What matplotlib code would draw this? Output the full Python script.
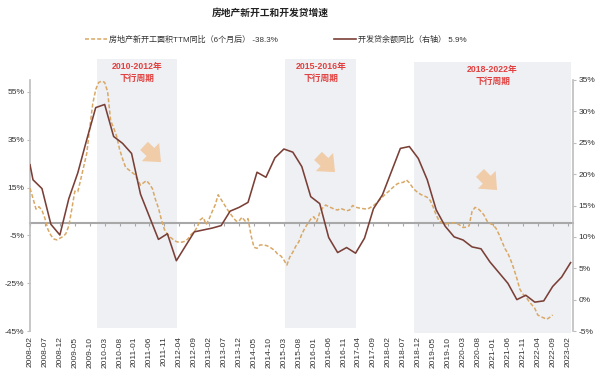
import numpy as np
import pandas as pd
import matplotlib
matplotlib.use("Agg")
import matplotlib.pyplot as plt
from matplotlib.patches import Rectangle, FancyArrowPatch
import matplotlib.transforms as mtransforms

plt.rcParams['font.family'] = ['Liberation Sans', 'Noto Sans CJK SC']
plt.rcParams['axes.unicode_minus'] = False

# ---------------- data ----------------
months = [str(p) for p in pd.period_range('2008-02', '2023-03', freq='M')]

# 房地产新开工面积TTM同比（6个月后）, monthly from 2008-02 (left axis, %)
starts_yoy = [
    14.7, 10.5, 6.0, 7.0, 5.5, 2.1, -2.5, -5.0, -6.5, -6.9,
    -6.2, -5.5, -4.3, -1.0, 6.0, 13.5, 13.3, 18.5, 24.0, 29.3,
    40.0, 50.0, 56.0, 59.0, 59.5, 59.0, 55.0, 43.0, 40.0, 36.5,
    31.0, 27.0, 23.5, 22.5, 21.5, 20.5, 18.5, 16.0, 17.0, 17.9,
    16.5, 14.5, 10.0, 6.5, 1.5, -2.5, -4.5, -5.8, -6.8, -7.6,
    -7.9, -7.8, -7.4, -6.3, -4.5, -3.5, -1.5, 1.5, 2.5, -0.5,
    2.0, 5.0, 7.7, 12.0, 10.0, 8.0, 6.0, 4.2, 2.5, 1.0,
    1.0, 2.6, 1.0, 2.0, -5.0, -10.0, -10.4, -9.0, -9.0, -9.2,
    -9.7, -10.5, -11.4, -13.0, -13.6, -15.3, -17.4, -14.0, -12.0, -9.5,
    -7.7, -4.5, -2.0, 0.0, 1.8, 2.8, 0.8, 4.5, 6.5, 7.7,
    7.0, 6.5, 5.9, 5.6, 6.3, 5.8, 5.3, 5.6, 7.5, 6.8,
    6.5, 6.3, 6.1, 6.0, 6.7, 7.5, 8.5, 9.8, 11.0, 12.3,
    13.3, 14.5, 15.6, 16.6, 17.0, 17.2, 18.2, 17.0, 15.2, 13.8,
    12.8, 12.0, 11.5, 10.9, 9.6, 6.8, 3.5, 1.0, 0.3, -0.3,
    0.0, 0.2, 0.3, 0.0, -0.8, -1.7, -1.6, -1.0, 5.0, 6.7,
    6.2, 5.0, 3.5, 1.0, 0.0, -0.6, -2.0, -4.5, -7.5, -10.5,
    -12.5, -15.5, -19.0, -23.0, -27.5, -29.5, -30.7, -32.5, -34.0, -35.5,
    -38.3, -39.0, -39.5, -40.1, -39.3, -38.3,
]

# 开发贷余额同比（右轴）, quarterly (right axis, %)
loan_months = ['2008-02'] + [f'{y}-{m:02d}' for y in range(2008, 2024)
                             for m in (3, 6, 9, 12) if f'{y}-{m:02d}' <= '2023-03']
loan_yoy = [
    21.5, 19.1, 17.7, 12.0, 10.3, 16.1, 20.2, 25.5, 30.6, 31.1,
    26.0, 24.9, 23.3, 16.8, 13.2, 9.6, 10.5, 6.2, 8.5, 10.8,
    11.1, 11.4, 11.8, 14.1, 14.7, 15.5, 20.3, 19.5, 22.6, 24.0,
    23.5, 21.2, 16.4, 15.3, 9.9, 7.5, 8.3, 7.4, 9.8, 14.5,
    16.7, 20.4, 24.1, 24.4, 22.5, 19.1, 14.3, 11.7, 10.0, 9.5,
    8.4, 8.1, 6.0, 4.3, 2.6, 0.0, 0.7, -0.4, -0.2, 2.1,
    3.6, 5.9,
]

xtick_labels = months[::5]

cycles = [('2010-01', '2012-03', '2010-2012年\n下行周期'),
          ('2015-04', '2017-03', '2015-2016年\n下行周期'),
          ('2018-11', '2023-03', '2018-2022年\n下行周期')]

left_ticks = [-45, -25, -5, 15, 35, 55]
right_ticks = [-5, 0, 5, 10, 15, 20, 25, 30, 35]

# ---------------- plot ----------------
W, H = 600, 390
fig = plt.figure(figsize=(6, 3.9), dpi=100)
ax = fig.add_axes([30 / W, 1 - 331 / H, (573 - 30) / W, (331 - 80) / H])
ax2 = ax.twinx()

idx = {m: i for i, m in enumerate(months)}
x_all = np.arange(len(months))
x_starts = x_all[:len(starts_yoy)]
x_loan = [idx[m] for m in loan_months]

ax.set_xlim(0, len(months) - 1 + 0.8)
ax.set_ylim(-45, 60)
ax2.set_ylim(-5, 35)

# shaded downturn cycles
trans = mtransforms.blended_transform_factory(ax.transData, ax.transAxes)
box_tops = [1.084, 1.084, 1.072]
box_bots = [0.012, 0.012, -0.008]
for (a, b, lab), top, bot in zip(cycles, box_tops, box_bots):
    xa = idx[a] - 0.5
    xb = idx[b] + 0.2
    ax.add_patch(Rectangle((xa, bot), xb - xa, top - bot, transform=trans,
                           facecolor='#EEF0F4', edgecolor='none', zorder=0,
                           clip_on=False))
    ax.text((xa + xb) / 2, top - 0.012, lab, transform=trans, ha='center',
            va='top', color='#E2403F', fontsize=6.3, fontweight='bold',
            linespacing=1.45, zorder=1)

# dashed series (left)
ax.plot(x_starts, starts_yoy, color='#D9A865', lw=1.1, ls=(0, (2.6, 1.4)),
        zorder=3)
# solid series (right)
ax2.plot(x_loan, loan_yoy, color='#7A3F36', lw=1.15, zorder=4)

# axes styling
for a in (ax, ax2):
    for s in ('top', 'bottom'):
        a.spines[s].set_visible(False)
ax2.spines['left'].set_visible(False)
ax.spines['right'].set_visible(False)
ax.spines['left'].set_color('#BDBDBD')
ax.spines['left'].set_linewidth(1.2)
ax2.spines['right'].set_color('#BDBDBD')
ax2.spines['right'].set_linewidth(1.2)

ax.set_yticks(left_ticks)
ax.set_yticklabels([f'{v}%' for v in left_ticks])
ax2.set_yticks(right_ticks)
ax2.set_yticklabels([f'{v}%' for v in right_ticks])
ax.tick_params(axis='y', labelsize=6, colors='#333333', length=2,
               color='#BDBDBD', pad=2)
ax2.tick_params(axis='y', labelsize=6, colors='#333333', length=2,
                color='#BDBDBD', pad=2)

ax.set_xticks(x_all[::5])
ax.set_xticklabels(xtick_labels, rotation=90)
ax.tick_params(axis='x', labelsize=6, colors='#333333', length=0, pad=4)

# zero line with tick marks
zero_pos = (0 - (-45)) / (60 - (-45))
sec = ax.secondary_xaxis(zero_pos)
sec.set_xticks(x_all[::5])
sec.set_xticklabels([])
sec.tick_params(axis='x', direction='out', length=2.5, color='#A8A8A8',
                width=0.8)
sec.spines['bottom'].set_color('#A8A8A8')
sec.spines['bottom'].set_linewidth(1.5)
sec.spines['top'].set_visible(False)

# arrows
arrow_kw = dict(arrowstyle='simple,head_width=1.9,head_length=1.1,tail_width=0.85',
                color='#F1CCA8', lw=0, mutation_scale=9.5)
for (x0, y0, x1, y1) in [(142, 144, 163, 164), (316, 154, 337, 174),
                         (478, 171, 499, 192)]:
    fig.add_artist(FancyArrowPatch(
        (x0 / W, 1 - y0 / H), (x1 / W, 1 - y1 / H),
        transform=fig.transFigure, **arrow_kw))

# title
fig.text(270 / W, 1 - 13 / H, '房地产新开工和开发贷增速', ha='center',
         va='center', fontsize=7, fontweight='bold', color='#222222')

# legend
h1, = ax.plot([], [], color='#D9A865', lw=1.1, ls=(0, (2.6, 1.4)))
h2, = ax.plot([], [], color='#7A3F36', lw=1.2)
fig.legend([h1, h2],
           ['房地产新开工面积TTM同比（6个月后） -38.3%',
            '开发贷余额同比（右轴） 5.9%'],
           loc='center left', bbox_to_anchor=(78 / W, 1 - 40 / H), ncol=2,
           frameon=False, fontsize=5.8, handlelength=2.65, handletextpad=0.3,
           columnspacing=7.0, labelcolor='#333333')

fig.savefig('out.png', dpi=100)
